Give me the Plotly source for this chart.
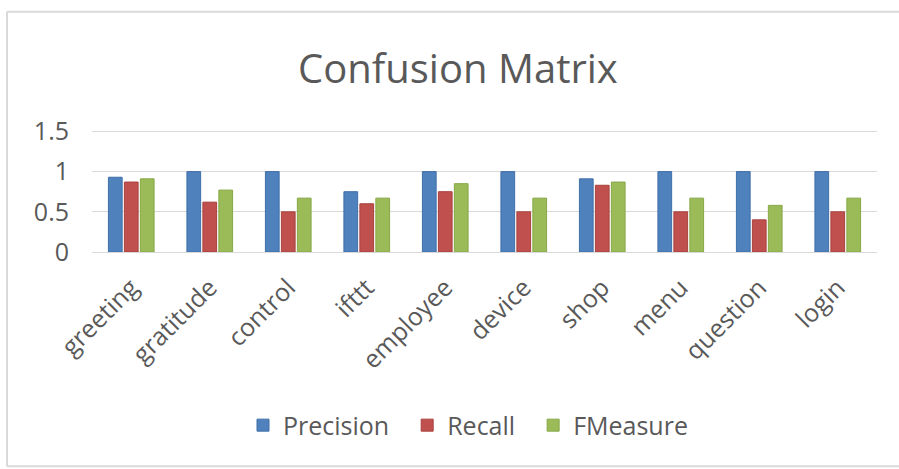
import plotly.graph_objects as go

categories = ["greeting", "gratitude", "control", "ifttt", "employee", "device", "shop", "menu", "question", "login"]
precision = [0.93, 1.0, 1.0, 0.75, 1.0, 1.0, 0.91, 1.0, 1.0, 1.0]
recall = [0.87, 0.62, 0.5, 0.6, 0.75, 0.5, 0.83, 0.5, 0.4, 0.5]
fmeasure = [0.91, 0.77, 0.67, 0.67, 0.85, 0.67, 0.87, 0.67, 0.58, 0.67]
series_names = ["Precision", "Recall", "FMeasure"]
y_ticks = [0, 0.5, 1, 1.5]
y_tick_labels = ["0", "0.5", "1", "1.5"]

FONT = "Open Sans"
GRAY = "#595959"
BORDER = "#d9d9d9"

fig = go.Figure()
colors = [("#4F81BD", "#3f6fa8"), ("#C0504D", "#a8403d"), ("#9BBB59", "#87a847")]
pads = ["\u00a0\u00a0", "\u00a0\u00a0", ""]
for name, vals, (col, lc), pad in zip(series_names, [precision, recall, fmeasure], colors, pads):
    fig.add_trace(go.Bar(name=name + pad, x=categories, y=vals,
                         marker=dict(color=col, line=dict(color=lc, width=1))))

W, H = 899, 469
L, R, B = 92, 22, 217
YMAX = 1.53
unit = 80.67
ph = unit * YMAX
T = H - B - ph
pw = W - L - R

def px_x(x):
    return (x - L) / pw

def px_y(y):
    return (H - B - y) / ph

def border_line(x0, y0, x1, y1):
    return dict(type="line", xref="paper", yref="paper", x0=px_x(x0), y0=px_y(y0),
                x1=px_x(x1), y1=px_y(y1), line=dict(color=BORDER, width=2), layer="below")

fig.update_layout(
    width=W, height=H,
    margin=dict(l=L, r=R, t=T, b=B, autoexpand=False),
    paper_bgcolor="white", plot_bgcolor="white",
    barmode="group", bargap=0.39, bargroupgap=0.14,
    font=dict(family=FONT, color=GRAY, size=25),
    showlegend=True,
    legend=dict(orientation="h", x=px_x(468), xanchor="center", y=px_y(426), yanchor="middle",
                font=dict(size=25, color=GRAY), itemwidth=30, traceorder="normal"),
    xaxis=dict(tickangle=-45, showgrid=False, showline=True, linecolor=BORDER, linewidth=1,
               ticks="", automargin=False, ticklabelstandoff=10, tickfont=dict(size=25, color=GRAY)),
    yaxis=dict(range=[0, YMAX], tickvals=y_ticks, ticktext=y_tick_labels, showgrid=True,
               gridcolor=BORDER, gridwidth=1, zeroline=False, showline=False, ticks="",
               automargin=False, ticklabelstandoff=22, tickfont=dict(size=25, color=GRAY)),
    shapes=[border_line(7, 11, 7, 467), border_line(7, 11, 899, 11), border_line(7, 467, 899, 467)],
    annotations=[dict(text="Confusion Matrix", xref="paper", yref="paper", x=px_x(458), y=px_y(67),
                      xanchor="center", yanchor="middle", showarrow=False,
                      font=dict(size=40, color=GRAY, family=FONT))],
)

fig.write_html("out.html", config={"displayModeBar": False},
               post_script="document.body.style.margin='0px';document.body.style.overflow='hidden';")
